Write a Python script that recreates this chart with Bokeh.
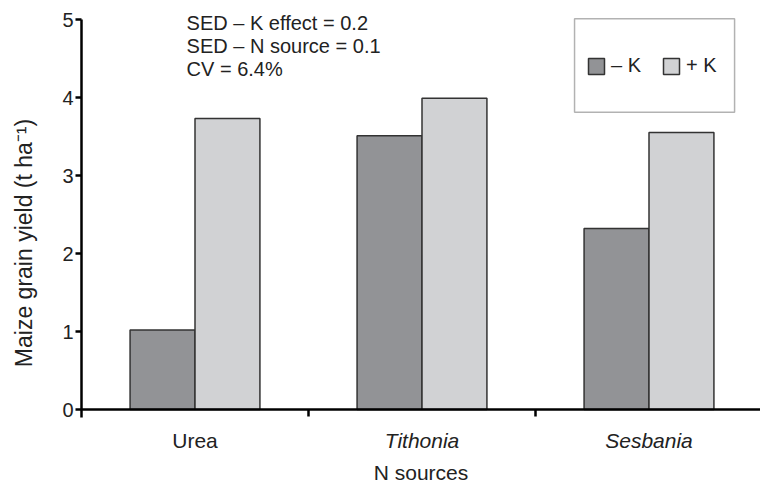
from bokeh.plotting import figure
from bokeh.models import (Range1d, FixedTicker, Label, Legend, LegendItem,
                          BoxAnnotation, ColumnDataSource)
from bokeh.embed import file_html
from bokeh.resources import INLINE

# ---- data ----
sources = ["Urea", "Tithonia", "Sesbania"]
source_styles = ["normal", "italic", "italic"]
minus_k = [1.02, 3.51, 2.32]
plus_k = [3.73, 3.99, 3.55]
series_labels = ["\u2013 K", "+ K"]
y_ticks = [0, 1, 2, 3, 4, 5]
stats_lines = ["SED \u2013 K effect = 0.2", "SED \u2013 N source = 0.1", "CV = 6.4%"]
x_title = "N sources"
y_title = "Maize grain yield (t ha\u207b\u00b9)"

FONT = "Liberation Sans"
DARK = "#929396"
LIGHT = "#d1d2d4"
EDGE = "#333333"
TXT = "#222222"

W, H = 760, 485
LEFT = 81
PX_PER_UNIT = 78.0
ZERO_Y = 409  # page pixel of y = 0

centers = [i + 0.5 for i in range(len(sources))]
bw = 0.286
src = ColumnDataSource(dict(
    xm=[c - bw / 2 for c in centers],
    xp=[c + bw / 2 for c in centers],
    mk=minus_k, pk=plus_k))

x_end = (W - LEFT) / 227.0
y_end = ZERO_Y / PX_PER_UNIT
y_start = -(H - ZERO_Y) / PX_PER_UNIT

p = figure(width=W, height=H, output_backend="svg", toolbar_location=None,
           x_range=Range1d(0, x_end), y_range=Range1d(y_start, y_end),
           min_border_left=LEFT, min_border_right=0, min_border_top=0,
           min_border_bottom=0)
p.outline_line_color = None
p.xgrid.visible = False
p.ygrid.visible = False
p.background_fill_color = "white"

r1 = p.vbar(x="xm", top="mk", bottom=0, width=bw, source=src, fill_color=DARK,
            line_color=EDGE, line_width=1.5)
r2 = p.vbar(x="xp", top="pk", bottom=0, width=bw, source=src, fill_color=LIGHT,
            line_color=EDGE, line_width=1.5)

# y axis
ya = p.yaxis[0]
ya.ticker = FixedTicker(ticks=y_ticks)
ya.bounds = (-0.1, 5)
ya.axis_line_width = 2.5
ya.axis_line_color = "black"
ya.major_tick_line_width = 2.5
ya.major_tick_in = 0
ya.major_tick_out = 6
ya.minor_tick_line_color = None
ya.major_label_text_font = FONT
ya.major_label_text_font_size = "20px"
ya.major_label_text_color = TXT
ya.major_label_standoff = 2
ya.axis_label = y_title
ya.axis_label_text_font = FONT
ya.axis_label_text_font_size = "23px"
ya.axis_label_text_font_style = "normal"
ya.axis_label_text_color = TXT
ya.axis_label_standoff = 22

# x axis (drawn at y = 0)
xa = p.xaxis[0]
xa.fixed_location = 0
xa.ticker = FixedTicker(ticks=[1, 2])
xa.major_label_overrides = {1: "", 2: ""}
xa.axis_line_width = 2.5
xa.axis_line_color = "black"
xa.major_tick_line_width = 2.5
xa.major_tick_in = 0
xa.major_tick_out = 7
xa.minor_tick_line_color = None

# category labels
for c, name, style in zip(centers, sources, source_styles):
    p.add_layout(Label(x=c, y=-0.40, text=name, text_align="center",
                       text_baseline="middle", text_font=FONT,
                       text_font_size="21px", text_font_style=style,
                       text_color=TXT))

# x title
p.add_layout(Label(x=x_end / 2, y=-0.81, text=x_title, text_align="center",
                   text_baseline="middle", text_font=FONT,
                   text_font_size="21px", text_color=TXT))

# stats text
for i, line in enumerate(stats_lines):
    p.add_layout(Label(x=0.463, y=4.96 - i * 0.295, text=line,
                       text_align="left", text_baseline="middle",
                       text_font=FONT, text_font_size="20px",
                       text_color=TXT))

# legend frame
p.add_layout(BoxAnnotation(left=2.172, right=2.877, top=5.01, bottom=3.81,
                           fill_alpha=0, line_color="black", line_width=1.5))

legend = Legend(items=[LegendItem(label=series_labels[0], renderers=[r1]),
                       LegendItem(label=series_labels[1], renderers=[r2])],
                orientation="horizontal", location=(505, H - 77),
                padding=0, margin=0, spacing=20, label_standoff=5,
                glyph_width=20, glyph_height=20, label_height=20,
                label_text_font=FONT, label_text_font_size="20px",
                label_text_color=TXT,
                border_line_color=None, background_fill_alpha=0)
p.add_layout(legend)

open("out.html", "w").write(file_html(p, INLINE))
